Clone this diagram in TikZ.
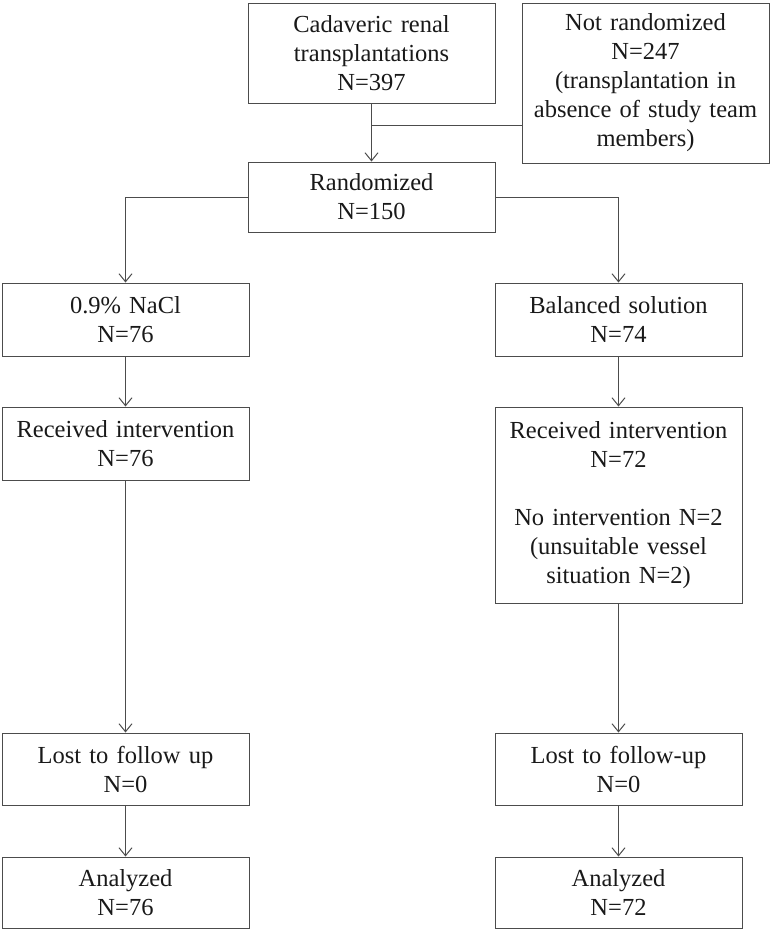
\documentclass[tikz,border=0pt]{standalone}
\usepackage{fontspec}
\setmainfont{Liberation Serif}
\usetikzlibrary{arrows.meta}

\begin{document}
\begin{tikzpicture}[x=1pt,y=1pt,
		box/.style={draw=black!70, line width=1pt, text=black!90, text width=247pt, inner xsep=0pt, inner ysep=0pt, align=center, font=\fontsize{24.5}{29}\selectfont},
		arr/.style={draw=black!70, line width=1pt, -{Straight Barb[length=8pt,width=13pt]}}]
		\useasboundingbox (0, 0) rectangle (775, -930);
		%%%%%%%%%%%%%
		\node[box, minimum height=100pt] (cad) at (371.5, -53) {Cadaveric renal\\transplantations\\N=397};
		\node[box, minimum height=160pt] (notrand) at (645.5, -83) {Not randomized\\N=247\\(transplantation in\\absence of study team\\members)};
		\node[box, minimum height=70pt] (rand) at (371.5, -197) {Randomized\\N=150};
		\node[box, minimum height=73pt] (nacl) at (125.5, -319.5) {0.9\% NaCl\\N=76};
		\node[box, minimum height=73pt] (bal) at (618.5, -319.5) {Balanced solution\\N=74};
		\node[box, minimum height=73pt] (recl) at (125.5, -443.5) {Received intervention\\N=76};
		\node[box, minimum height=196pt] (recr) at (618.5, -505) {Received intervention\\N=72\\[29pt]No intervention N=2\\(unsuitable vessel\\situation N=2)};
		\node[box, minimum height=72pt] (lostl) at (125.5, -769) {Lost to follow up\\N=0};
		\node[box, minimum height=72pt] (lostr) at (618.5, -769) {Lost to follow-up\\N=0};
		\node[box, minimum height=71pt] (anal) at (125.5, -892.5) {Analyzed\\N=76};
		\node[box, minimum height=71pt] (anar) at (618.5, -892.5) {Analyzed\\N=72};
		\coordinate (j) at (371.5, -125);
		%%%%%%%%%%%%%
		\draw[arr] (cad) to (rand);
		\draw[draw=black!70, line width=1pt] (notrand.west |- j) to (j);
		\draw[arr] (rand.west) -| (nacl.north);
		\draw[arr] (rand.east) -| (bal.north);
		\draw[arr] (nacl) to (recl);
		\draw[arr] (bal) to (recr);
		\draw[arr] (recl) to (lostl);
		\draw[arr] (recr) to (lostr);
		\draw[arr] (lostl) to (anal);
		\draw[arr] (lostr) to (anar);
	\end{tikzpicture}
\end{document}
